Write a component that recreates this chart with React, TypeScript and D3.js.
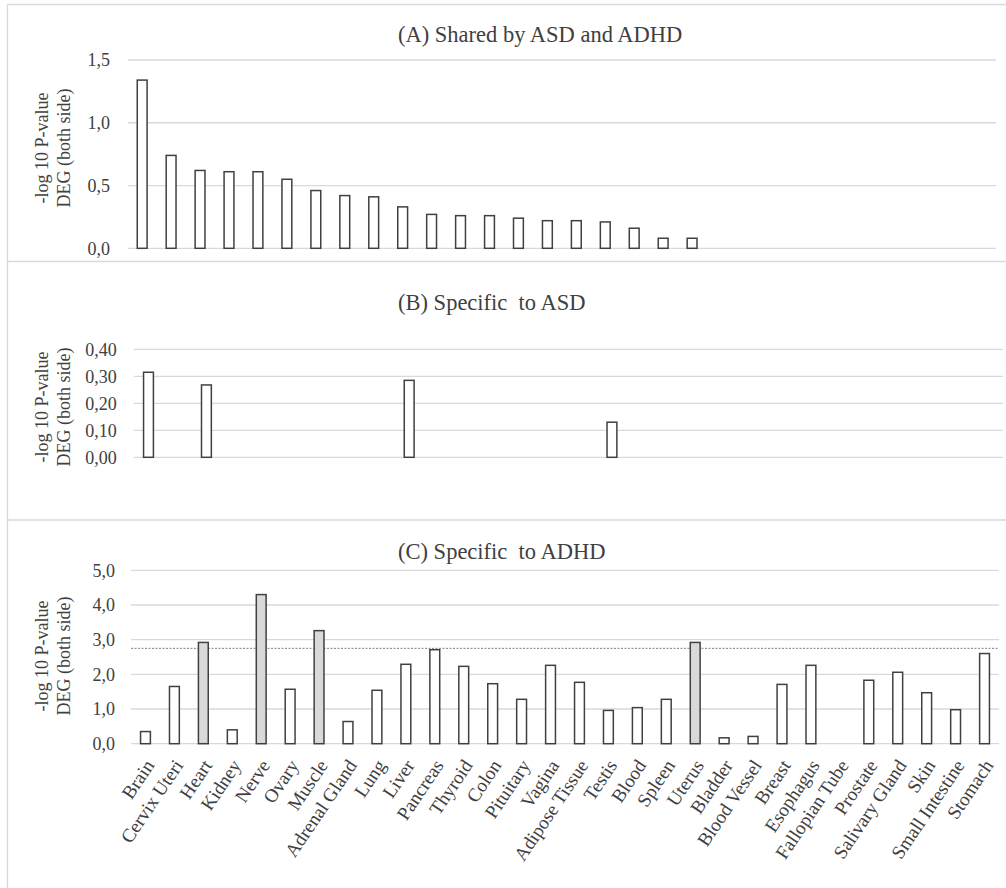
import React from "react";
import * as d3 from "d3";

const tissues = [
  "Brain", "Cervix Uteri", "Heart", "Kidney", "Nerve", "Ovary", "Muscle",
  "Adrenal Gland", "Lung", "Liver", "Pancreas", "Thyroid", "Colon", "Pituitary",
  "Vagina", "Adipose Tissue", "Testis", "Blood", "Spleen", "Uterus", "Bladder",
  "Blood Vessel", "Breast", "Esophagus", "Fallopian Tube", "Prostate",
  "Salivary Gland", "Skin", "Small Intestine", "Stomach",
];

const adhdValues = [
  0.35, 1.65, 2.92, 0.40, 4.30, 1.57, 3.26, 0.64, 1.54, 2.29, 2.71, 2.23, 1.73,
  1.28, 2.26, 1.77, 0.96, 1.04, 1.28, 2.92, 0.17, 0.21, 1.71, 2.26, 0, 1.83,
  2.06, 1.47, 0.98, 2.60,
];

const asdValues: (number | null)[] = [
  0.315, null, 0.268, null, null, null, null, null, null, 0.285, null, null, null,
  null, null, null, 0.13, null, null, null, null, null, null, null, null, null,
  null, null, null, null,
];

const sharedValues = [
  1.34, 0.74, 0.62, 0.61, 0.61, 0.55, 0.46, 0.42, 0.41, 0.33, 0.27, 0.26, 0.26,
  0.24, 0.22, 0.22, 0.21, 0.16, 0.08, 0.08,
];

const highlighted = ["Heart", "Nerve", "Muscle", "Uterus"];
const threshold = 2.75;

const ticksA = [0, 0.5, 1.0, 1.5];
const ticksB = [0, 0.1, 0.2, 0.3, 0.4];
const ticksC = [0, 1, 2, 3, 4, 5];

const titles = ["(A) Shared by ASD and ADHD", "(B) Specific\u00a0 to ASD", "(C) Specific\u00a0 to ADHD"];
const yLabel1 = "-log 10 P-value";
const yLabel2 = "DEG (both side)";

const FONT = "'Liberation Serif', 'Times New Roman', serif";
const TEXT = "#404040";
const GRID = "#d9d9d9";
const BAR_STROKE = "#404040";

type Panel = {
  title: string;
  titleY: number;
  yDomain: [number, number];
  yRange: [number, number];
  xRange: [number, number];
  ticks: number[];
  fmt: string;
  tickX: number;
  labelY: number;
  bars: { key: number; value: number; grey: boolean }[];
};

function fmtComma(f: string) {
  const base = d3.format(f);
  return (v: number) => base(v).replace(".", ",");
}

export default function App() {
  const slots = d3.range(tissues.length);

  const panels: Panel[] = [
    {
      title: titles[0], titleY: 42, yDomain: [0, 1.5], yRange: [248.3, 60],
      xRange: [127.7, 996], ticks: ticksA, fmt: ".1f", tickX: 110, labelY: 148,
      bars: sharedValues.map((v, i) => ({ key: i, value: v, grey: false })),
    },
    {
      title: titles[1], titleY: 310, yDomain: [0, 0.4], yRange: [457.3, 349.3],
      xRange: [134, 1003], ticks: ticksB, fmt: ".2f", tickX: 116.7, labelY: 407,
      bars: asdValues
        .map((v, i) => ({ key: i, value: v as number, grey: false }))
        .filter((d) => d.value !== null),
    },
    {
      title: titles[2], titleY: 559, yDomain: [0, 5], yRange: [743.7, 570.3],
      xRange: [131, 999], ticks: ticksC, fmt: ".1f", tickX: 115, labelY: 656,
      bars: adhdValues.map((v, i) => ({ key: i, value: v, grey: highlighted.includes(tissues[i]) })),
    },
  ];

  return (
    <svg
      width={1006}
      height={888}
      style={{ position: "absolute", left: 0, top: 0, background: "#fff" }}
      fontFamily={FONT}
    >
      <rect x={0} y={0} width={1006} height={888} fill="#fff" />
      <line x1={7.5} x2={1006} y1={4.5} y2={4.5} stroke={GRID} strokeWidth={1.3} />
      <line x1={7.5} x2={1006} y1={261.5} y2={261.5} stroke={GRID} strokeWidth={1.3} />
      <line x1={7.5} x2={1006} y1={520} y2={520} stroke={GRID} strokeWidth={1.3} />
      <line x1={7.5} x2={7.5} y1={4.5} y2={888} stroke={GRID} strokeWidth={1.3} />

      {panels.map((p, pi) => {
        const x = d3.scaleBand<number>().domain(slots).range(p.xRange).paddingInner(0.66).paddingOuter(0.33);
        const y = d3.scaleLinear().domain(p.yDomain).range(p.yRange);
        const f = fmtComma(p.fmt);
        return (
          <g key={pi}>
            <text x={398} y={p.titleY} fontSize={22.5} fill={TEXT}>{p.title}</text>
            {p.ticks.map((t) => (
              <g key={t}>
                <line x1={p.xRange[0]} x2={p.xRange[1]} y1={y(t)} y2={y(t)} stroke={GRID} strokeWidth={1.3} />
                <text x={p.tickX} y={y(t)} dy="0.35em" textAnchor="end" fontSize={18} fill={TEXT}>{f(t)}</text>
              </g>
            ))}
            <text transform={`translate(48,${p.labelY}) rotate(-90)`} textAnchor="middle" fontSize={18} fill={TEXT}>{yLabel1}</text>
            <text transform={`translate(70,${p.labelY}) rotate(-90)`} textAnchor="middle" fontSize={18} fill={TEXT}>{yLabel2}</text>
            {pi === 2 && (
              <line x1={p.xRange[0]} x2={p.xRange[1]} y1={y(threshold)} y2={y(threshold)} stroke="#7f7f7f" strokeWidth={1} strokeDasharray="2 1.5" />
            )}
            {p.bars.map((b) =>
              b.value > 0 ? (
                <rect
                  key={b.key}
                  x={(x(b.key) as number)}
                  y={y(b.value)}
                  width={x.bandwidth()}
                  height={y(0) - y(b.value)}
                  fill={b.grey ? "#d9d9d9" : "#fff"}
                  stroke={BAR_STROKE}
                  strokeWidth={1.5}
                />
              ) : null
            )}
            {pi === 2 &&
              tissues.map((t, i) => (
                <text
                  key={t}
                  transform={`translate(${(x(i) as number) + x.bandwidth() / 2 + 4},${y(0) + 18}) rotate(-56)`}
                  textAnchor="end"
                  dy="0.35em"
                  fontSize={19}
                  fill={TEXT}
                >
                  {t}
                </text>
              ))}
          </g>
        );
      })}
    </svg>
  );
}
